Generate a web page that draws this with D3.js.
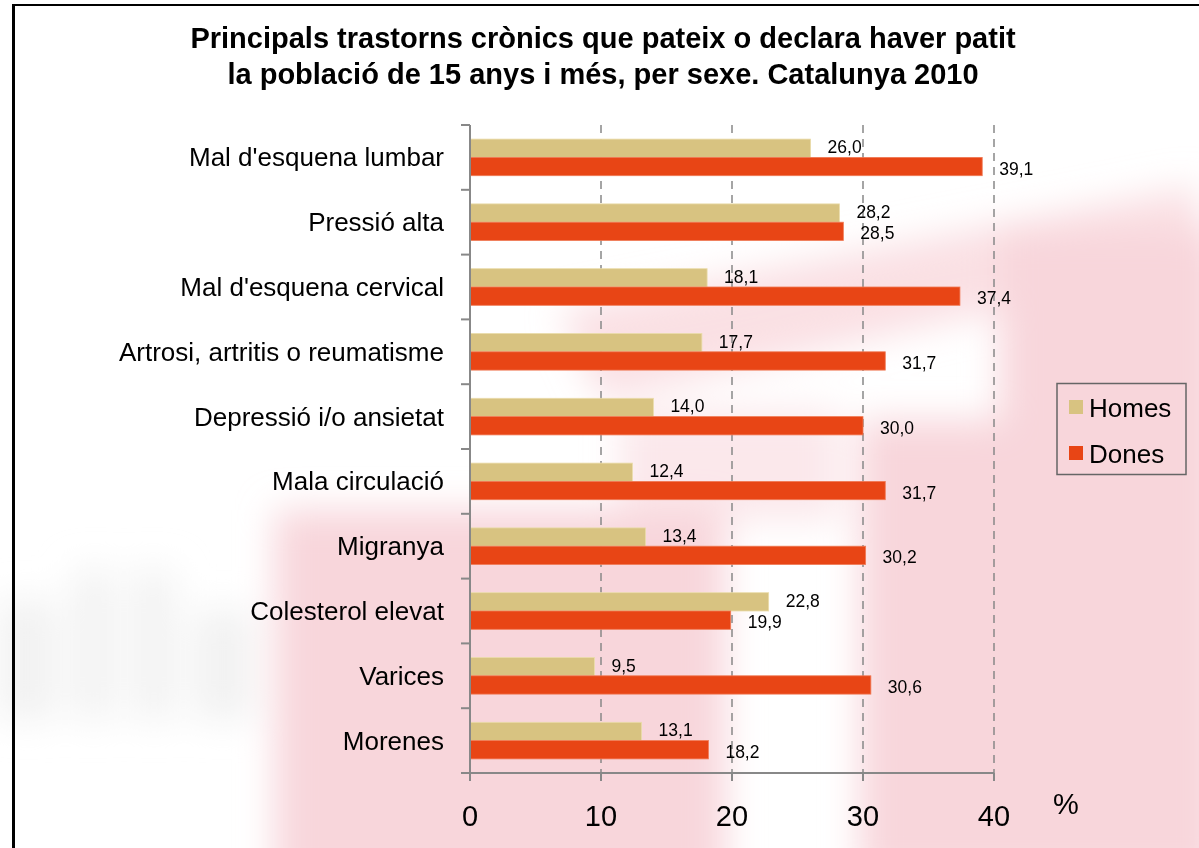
<!DOCTYPE html>
<html>
<head>
<meta charset="utf-8">
<script src="https://cdn.jsdelivr.net/npm/d3@7"></script>
<style>
  html, body { margin: 0; padding: 0; background: #fff; }
  svg { display: block; }
  text { font-family: "Liberation Sans", Arial, sans-serif; fill: #000; }
</style>
</head>
<body>
<svg id="chart" width="1199" height="848"></svg>
<script>
// ---- data ----
const categories = [
  "Mal d'esquena lumbar",
  "Pressió alta",
  "Mal d'esquena cervical",
  "Artrosi, artritis o reumatisme",
  "Depressió i/o ansietat",
  "Mala circulació",
  "Migranya",
  "Colesterol elevat",
  "Varices",
  "Morenes"
];
const homes = [26.0, 28.2, 18.1, 17.7, 14.0, 12.4, 13.4, 22.8, 9.5, 13.1];
const dones = [39.1, 28.5, 37.4, 31.7, 30.0, 31.7, 30.2, 19.9, 30.6, 18.2];
const seriesNames = ["Homes", "Dones"];
const xTicks = [0, 10, 20, 30, 40];
const titleLines = [
  "Principals trastorns crònics que pateix o declara haver patit",
  "la població de 15 anys i més, per sexe. Catalunya 2010"
];
const unitLabel = "%";

// ---- layout ----
const W = 1199, H = 848;
const plot = { left: 470, right: 994, top: 125, bottom: 773 };
const colors = { Homes: "#d8c381", Dones: "#e84515" };
const fmt = v => v.toFixed(1).replace(".", ",");

const svg = d3.select("#chart");

// background watermark (blurred)
const defs = svg.append("defs");
defs.append("filter").attr("id", "blur").attr("x", "-30%").attr("y", "-30%").attr("width", "160%").attr("height", "160%")
  .append("feGaussianBlur").attr("stdDeviation", 18);
const wm = svg.append("g").attr("filter", "url(#blur)");
const pink = "#f8d6db";
wm.append("rect").attr("x", 275).attr("y", 510).attr("width", 450).attr("height", 380).attr("fill", pink);
wm.append("rect").attr("x", 860).attr("y", 420).attr("width", 360).attr("height", 460).attr("fill", pink);
wm.append("rect").attr("x", 1000).attr("y", 230).attr("width", 220).attr("height", 650).attr("fill", pink);
wm.append("polygon").attr("points", "560,310 1199,185 1199,265 600,400").attr("fill", pink).attr("opacity", 0.75);
wm.append("rect").attr("x", 620).attr("y", 410).attr("width", 220).attr("height", 110).attr("fill", pink).attr("opacity", 0.55);
// grey blurred letters left
const grey = "#f1f1f1";
[[0,600,55,120],[75,570,38,150],[135,570,38,150],[195,610,55,110]].forEach(r => {
  wm.append("rect").attr("x", r[0]).attr("y", r[1]).attr("width", r[2]).attr("height", r[3]).attr("fill", grey);
});

// outer border
svg.append("line").attr("x1", 13).attr("x2", W).attr("y1", 5).attr("y2", 5).attr("stroke", "#000").attr("stroke-width", 2);
svg.append("line").attr("x1", 13.5).attr("x2", 13.5).attr("y1", 4).attr("y2", H).attr("stroke", "#000").attr("stroke-width", 3);

// title
svg.append("text").attr("x", 603).attr("y", 48).attr("text-anchor", "middle")
  .style("font-size", "29px").style("font-weight", "bold").text(titleLines[0]);
svg.append("text").attr("x", 603).attr("y", 84).attr("text-anchor", "middle")
  .style("font-size", "29px").style("font-weight", "bold").text(titleLines[1]);

// scales
const x = d3.scaleLinear().domain([0, 40]).range([plot.left, plot.right]);
const y = d3.scaleBand().domain(categories).range([plot.top, plot.bottom]).paddingInner(0.435).paddingOuter(0.2175);
const ySub = d3.scaleBand().domain(seriesNames).range([0, y.bandwidth()]);

// gridlines (dashed)
svg.append("g").selectAll("line").data(xTicks.filter(d => d > 0)).join("line")
  .attr("x1", d => x(d)).attr("x2", d => x(d))
  .attr("y1", plot.top).attr("y2", plot.bottom)
  .attr("stroke", "#888").attr("stroke-width", 1.5).attr("stroke-dasharray", "8,6");

// bars
const rows = categories.map((c, i) => ({ cat: c, Homes: homes[i], Dones: dones[i] }));
const g = svg.append("g");
rows.forEach(r => {
  seriesNames.forEach(s => {
    g.append("rect")
      .attr("x", x(0))
      .attr("y", y(r.cat) + ySub(s))
      .attr("width", x(r[s]) - x(0))
      .attr("height", ySub.bandwidth())
      .attr("fill", colors[s])
      .attr("stroke", s === "Homes" ? "#eadcab" : "#f07a55")
      .attr("stroke-width", 0.8);
    g.append("text")
      .attr("x", x(r[s]) + 17)
      .attr("y", y(r.cat) + ySub(s) + ySub.bandwidth() / 2 + (s === "Homes" ? 5 : 8))
      .style("font-size", "17.5px")
      .text(fmt(r[s]));
  });
});

// y axis
const yAxisBoundaries = d3.range(categories.length + 1).map(i => plot.top + i * (plot.bottom - plot.top) / categories.length);
svg.append("line").attr("x1", plot.left).attr("x2", plot.left).attr("y1", plot.top).attr("y2", plot.bottom)
  .attr("stroke", "#888").attr("stroke-width", 2);
svg.append("g").selectAll("line").data(yAxisBoundaries).join("line")
  .attr("x1", plot.left - 9).attr("x2", plot.left).attr("y1", d => d).attr("y2", d => d)
  .attr("stroke", "#888").attr("stroke-width", 2);
svg.append("g").selectAll("text").data(categories).join("text")
  .attr("x", 444).attr("y", d => y(d) + y.bandwidth() / 2 + 9)
  .attr("text-anchor", "end").style("font-size", "26px").text(d => d);

// x axis
svg.append("line").attr("x1", plot.left - 9).attr("x2", plot.right).attr("y1", plot.bottom).attr("y2", plot.bottom)
  .attr("stroke", "#888").attr("stroke-width", 2);
svg.append("g").selectAll("line").data(xTicks).join("line")
  .attr("x1", d => x(d)).attr("x2", d => x(d)).attr("y1", plot.bottom).attr("y2", plot.bottom + 8)
  .attr("stroke", "#888").attr("stroke-width", 2);
svg.append("g").selectAll("text").data(xTicks).join("text")
  .attr("x", d => x(d)).attr("y", 826).attr("text-anchor", "middle")
  .style("font-size", "29px").text(d => d);
svg.append("text").attr("x", 1066).attr("y", 814).attr("text-anchor", "middle")
  .style("font-size", "29px").text(unitLabel);

// legend
const lg = svg.append("g");
lg.append("rect").attr("x", 1057).attr("y", 383.5).attr("width", 129).attr("height", 91)
  .attr("fill", "none").attr("stroke", "#666").attr("stroke-width", 1.5);
seriesNames.forEach((s, i) => {
  lg.append("rect").attr("x", 1069).attr("y", 400 + i * 46).attr("width", 14).attr("height", 14).attr("fill", colors[s]);
  lg.append("text").attr("x", 1089).attr("y", 417 + i * 46).style("font-size", "26px").text(s);
});
</script>
</body>
</html>
